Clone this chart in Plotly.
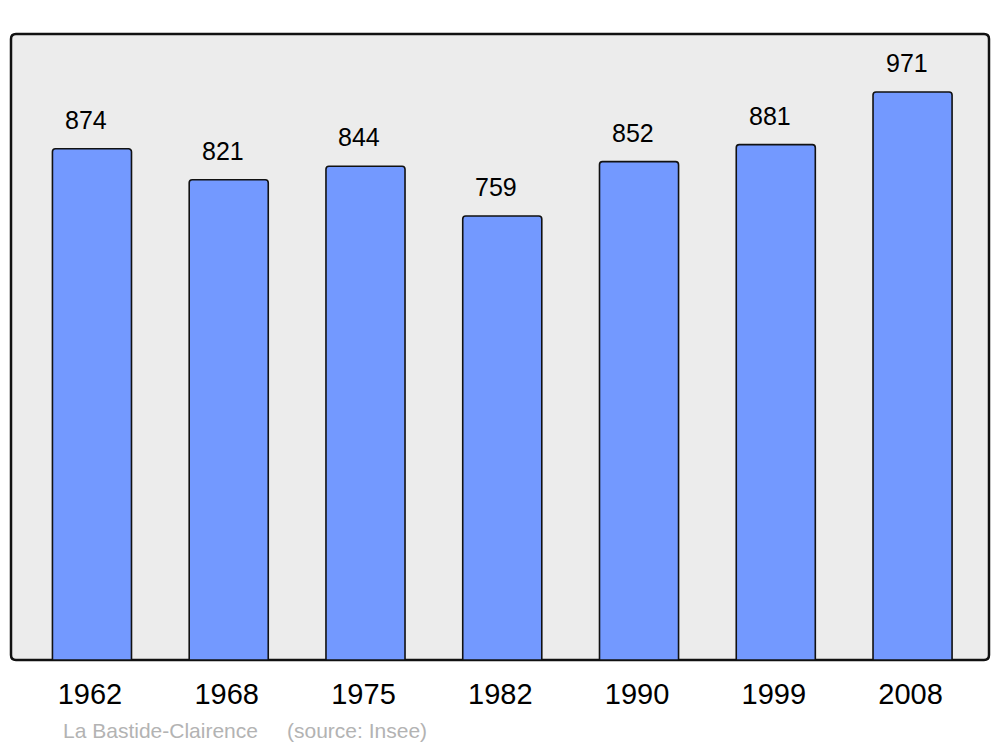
import plotly.graph_objects as go

years = ["1962", "1968", "1975", "1982", "1990", "1999", "2008"]
population = [874, 821, 844, 759, 852, 881, 971]
town = "La Bastide-Clairence"
source = "(source: Insee)"

FONT = "Liberation Sans, Arial, sans-serif"

# the page body has an 8px margin; figure sized/margined so the frame lands at 11..989 x 34..660
W, H = 984, 739
OFF = 8
L, T = 11 - OFF, 34 - OFF
R = W - (989 - OFF)
B = H - (660 - OFF)
PW = W - L - R
PH = H - T - B

fig = go.Figure()
fig.add_trace(go.Bar(
    x=years, y=population, width=0.578,
    marker=dict(color="#7399ff", line=dict(color="#111111", width=1.6), cornerradius=3),
    hoverinfo="x+y",
))

for i, v in enumerate(population):
    fig.add_annotation(x=i, y=v, text=str(v), showarrow=False, xshift=-6, yshift=29,
                       yanchor="middle", font=dict(family=FONT, size=25, color="#000000"))

# rounded plot frame
rx = 5 / PW
ry = 5 / PH
path = (f"M {rx},0 L {1-rx},0 Q 1,0 1,{ry} L 1,{1-ry} Q 1,1 {1-rx},1 "
        f"L {rx},1 Q 0,1 0,{1-ry} L 0,{ry} Q 0,0 {rx},0 Z")
fig.add_shape(type="path", path=path, xref="paper", yref="paper",
              fillcolor="#ececec", line=dict(color="#111111", width=2.5), layer="below")

for txt, px in [(town, 61), (source, 285)]:
    fig.add_annotation(x=(px - 11) / PW, y=(660 - 730) / PH, xref="paper", yref="paper",
                       text=txt, showarrow=False, xanchor="left", yanchor="middle",
                       font=dict(family=FONT, size=21, color="#b3b3b3"))

fig.update_layout(
    width=W, height=H,
    margin=dict(l=L, r=R, t=T, b=B, pad=0),
    paper_bgcolor="#ffffff", plot_bgcolor="rgba(0,0,0,0)",
    showlegend=False,
    font=dict(family=FONT, color="#000000"),
    xaxis=dict(type="category", range=[-0.592, 6.559], showgrid=False, zeroline=False,
               showline=False, ticks="outside", ticklen=8, tickcolor="rgba(0,0,0,0)",
               ticklabelshift=-2, tickfont=dict(family=FONT, size=29, color="#000000")),
    yaxis=dict(range=[0, 1070.2], showgrid=False, zeroline=False, showline=False,
               showticklabels=False, ticks=""),
)

fig.write_html("out.html")
